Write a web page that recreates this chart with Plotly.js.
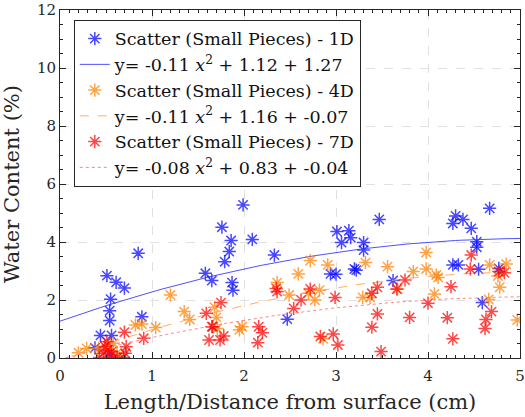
<!DOCTYPE html>
<html>
<head>
<meta charset="utf-8">
<script src="https://cdn.plot.ly/plotly-3.0.1.min.js"></script>
<style>html,body{margin:0;padding:0;background:#fff;}#chart{width:525px;height:417px;}</style>
</head>
<body>
<div id="chart"></div>
<script>
// ---- Data ----
const x1D = [0.85,0.51,0.61,0.70,0.55,0.54,0.54,0.89,0.44,0.56,0.38,0.56,1.58,1.65,1.99,1.76,1.86,2.09,1.84,1.79,1.87,1.88,2.33,2.47,3.01,3.14,3.06,3.16,2.94,3.00,3.20,3.22,3.47,3.30,3.30,3.62,4.30,4.27,4.38,4.47,4.67,4.53,4.53,4.27,4.33,4.55,4.77,4.59];
const y1D = [3.61,2.84,2.61,2.41,2.03,1.63,1.29,1.42,0.78,0.78,0.35,0.10,2.92,2.67,5.28,4.51,4.05,4.09,3.67,3.32,2.60,2.34,3.55,1.34,4.36,4.39,3.98,4.15,2.90,2.89,3.07,3.03,4.78,3.98,3.72,2.67,4.90,4.64,4.78,4.47,5.16,4.01,3.82,3.21,3.21,3.06,3.09,1.91];

const x4D = [1.20,1.35,1.41,0.82,0.89,1.04,0.29,0.20,0.42,0.58,0.62,0.52,1.68,2.72,2.91,2.59,2.36,2.49,2.82,2.70,2.77,1.70,1.71,1.95,1.98,2.86,3.32,3.56,3.84,3.98,3.98,4.09,4.11,4.07,3.29,3.37,3.67,4.67,4.85,4.76,4.78,4.66,4.97];
const y4D = [2.17,1.60,1.33,1.14,1.17,1.05,0.33,0.18,0.33,0.51,0.17,0.42,1.75,3.36,3.21,2.90,2.60,2.17,2.34,2.23,2.00,1.40,1.02,0.97,1.08,0.66,3.29,3.15,2.98,3.64,3.07,2.86,2.78,2.21,2.09,2.09,2.37,3.21,3.24,2.83,2.44,2.02,1.31];

const x7D = [0.70,0.72,0.71,0.69,0.91,1.59,1.65,1.62,0.49,0.52,0.47,0.56,0.51,0.54,0.43,0.62,2.35,2.36,1.75,2.62,2.72,2.54,2.99,1.66,1.74,1.78,2.16,2.20,2.15,2.83,2.97,3.02,3.45,3.39,3.75,3.66,3.45,3.39,3.49,3.80,4.00,4.25,4.46,4.47,4.21,4.27,4.63,4.69,4.62,4.77,4.83];
const y7D = [0.89,0.39,0.16,0.02,0.68,1.54,1.08,0.62,0.39,0.28,0.16,0.22,0.56,0.04,0.02,0.02,2.40,2.29,1.91,2.00,2.38,1.71,2.09,1.08,0.62,0.76,1.08,0.87,0.53,0.74,0.83,0.45,2.44,2.23,2.69,2.38,1.52,1.06,0.22,1.40,1.89,2.46,3.07,3.55,1.39,0.66,1.33,1.60,1.02,2.98,2.94];

// quadratic fit coefficients [a, b, c] as printed in the legend
const fit1D = [-0.11, 1.12, 1.27];
const fit4D = [-0.11, 1.16, -0.07];
const fit7D = [-0.08, 0.83, -0.04];

const seriesNames = ["Scatter (Small Pieces) - 1D","Scatter (Small Pieces) - 4D","Scatter (Small Pieces) - 7D"];
const fitNames = ["y= -0.11 <i>x</i><sup>2</sup> + 1.12 + 1.27","y= -0.11 <i>x</i><sup>2</sup> + 1.16 + -0.07","y= -0.08 <i>x</i><sup>2</sup> + 0.83 + -0.04"];
const xTicks = [0,1,2,3,4,5];
const yTicks = [0,2,4,6,8,10,12];

// ---- build ----
const fitX = [];
for (let i = 0; i <= 100; i++) fitX.push(i * 0.05);
function evalFit(c){ return fitX.map(x => c[0]*x*x + c[1]*x + c[2]); }

function scatterTrace(x, y, name, color){
  return {type:'scatter', mode:'markers', x:x, y:y, name:name,
    marker:{symbol:'asterisk-open', size:11, color:color, line:{color:color, width:1.5}}};
}
function fitTrace(c, name, color, dash){
  return {type:'scatter', mode:'lines', x:fitX, y:evalFit(c), name:name,
    line:{color:color, width:1, dash:dash}};
}

const traces = [
  scatterTrace(x1D, y1D, seriesNames[0], 'rgba(0,0,255,0.72)'),
  fitTrace(fit1D, fitNames[0], 'rgba(60,60,255,0.9)', 'solid'),
  scatterTrace(x4D, y4D, seriesNames[1], 'rgba(255,128,0,0.72)'),
  fitTrace(fit4D, fitNames[1], 'rgba(255,165,80,0.9)', 'dash'),
  scatterTrace(x7D, y7D, seriesNames[2], 'rgba(255,0,0,0.72)'),
  fitTrace(fit7D, fitNames[2], 'rgba(255,120,120,0.9)', 'dot')
];

const font = "DejaVu Serif";
const axisCommon = {
  showline:true, linecolor:'#262626', linewidth:1, mirror:'ticks',
  ticks:'inside', ticklen:6, tickcolor:'#262626', tickwidth:1,
  showgrid:true, gridcolor:'#e0e0e0', griddash:'dash', gridwidth:1,
  zeroline:false, tickfont:{family:font, size:15, color:'#262626'}
};

const layout = {
  width:525, height:417,
  margin:{l:60, r:5, t:10, b:59},
  paper_bgcolor:'#fff', plot_bgcolor:'#fff',
  font:{family:font},
  showlegend:true,
  legend:{x:0.03, y:0.972, xanchor:'left', yanchor:'top',
    bgcolor:'#fff', bordercolor:'#262626', borderwidth:1,
    font:{family:font, size:17.5, color:'#111'}, tracegroupgap:0},
  xaxis:Object.assign({}, axisCommon, {
    range:[0,5], tickvals:xTicks, ticktext:xTicks.map(String),
    ticklabelstandoff:4,
    minor:{dtick:0.1, ticklen:3, tickcolor:'#262626', ticks:'inside', showgrid:false},
    title:{text:'Length/Distance from surface (cm)', font:{family:font, size:21, color:'#262626'}, standoff:10}
  }),
  yaxis:Object.assign({}, axisCommon, {
    range:[0,12], tickvals:yTicks, ticktext:yTicks.map(String),
    minor:{dtick:0.5, ticklen:3, tickcolor:'#262626', ticks:'inside', showgrid:false},
    title:{text:'Water Content (%)', font:{family:font, size:21, color:'#262626'}, standoff:12}
  })
};

Plotly.newPlot('chart', traces, layout, {displayModeBar:false, staticPlot:true});
</script>
</body>
</html>
